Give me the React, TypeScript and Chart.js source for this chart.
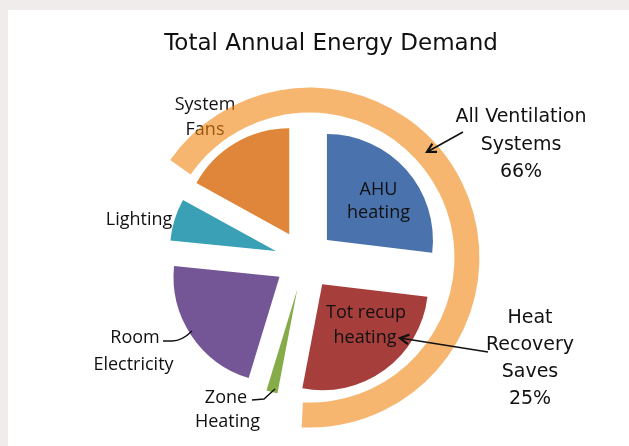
import React, { useEffect, useRef } from 'react';
import { Chart, registerables } from 'chart.js';

Chart.register(...registerables);

// ---- data ----
const sliceLabels = ['AHU heating', 'Tot recup heating', 'Zone Heating', 'Room Electricity', 'Lighting', 'System Fans'];
const sliceValues = [26.9, 26.1, 1.7, 21.9, 6.4, 17.0];
const ringLabels = ['All Ventilation Systems', 'Other'];
const ringValues = [66, 34];
const titleText = 'Total Annual Energy Demand';
const ventilationText = ['All Ventilation', 'Systems', '66%'];
const recoveryText = ['Heat', 'Recovery', 'Saves', '25%'];

// ---- style ----
const sliceColors = ['#4a72ac', '#a63e3c', '#86ac4a', '#745596', '#3aa0b6', '#e0863a'];
const ringColor = 'rgba(240,133,15,0.6)';
const SLICE_EXPLODE = 30;
const RING_EXPLODE = 5.5;
const OX = 8;
const OY = 10;
const W = 621;
const H = 436;

const explodePlugin = {
  id: 'explode',
  beforeDatasetDraw(chart: any, args: any) {
    const d = args.index === 0 ? RING_EXPLODE : SLICE_EXPLODE;
    const { left, right, top, bottom } = chart.chartArea;
    const cx = (left + right) / 2;
    const cy = (top + bottom) / 2;
    args.meta.data.forEach((el: any) => {
      const mid = (el.startAngle + el.endAngle) / 2;
      el.x = cx + Math.cos(mid) * d;
      el.y = cy + Math.sin(mid) * d;
    });
  },
};

function txt(ctx: CanvasRenderingContext2D, s: string, x: number, y: number) {
  ctx.fillText(s, x - OX, y - OY);
}

function arrow(ctx: CanvasRenderingContext2D, x1: number, y1: number, x2: number, y2: number) {
  const ax = x1 - OX, ay = y1 - OY, bx = x2 - OX, by = y2 - OY;
  ctx.save();
  ctx.strokeStyle = '#111';
  ctx.lineWidth = 1.6;
  ctx.beginPath();
  ctx.moveTo(ax, ay);
  ctx.lineTo(bx, by);
  ctx.stroke();
  const ang = Math.atan2(by - ay, bx - ax);
  const len = 10;
  ctx.lineWidth = 2.2;
  ctx.beginPath();
  ctx.moveTo(bx - len * Math.cos(ang - 0.5), by - len * Math.sin(ang - 0.5));
  ctx.lineTo(bx, by);
  ctx.lineTo(bx - len * Math.cos(ang + 0.5), by - len * Math.sin(ang + 0.5));
  ctx.stroke();
  ctx.restore();
}

const labelFont = '18px "Open Sans"';
const sideFont = '19px "DejaVu Sans"';
const titleFont = '23px "DejaVu Sans"';

const annotationPlugin = {
  id: 'annotations',
  beforeDatasetsDraw(chart: any) {
    const ctx: CanvasRenderingContext2D = chart.ctx;
    ctx.save();
    ctx.fillStyle = '#111';
    ctx.textAlign = 'center';
    ctx.textBaseline = 'alphabetic';
    ctx.font = labelFont;
    const parts = sliceLabels[5].split(' ');
    txt(ctx, parts[0], 205, 110);
    txt(ctx, parts[1], 205, 135);
    ctx.restore();
  },
  afterDatasetsDraw(chart: any) {
    const ctx: CanvasRenderingContext2D = chart.ctx;
    ctx.save();
    ctx.fillStyle = '#111';
    ctx.textAlign = 'center';
    ctx.textBaseline = 'alphabetic';

    ctx.font = titleFont;
    txt(ctx, titleText, 331, 50);

    ctx.font = labelFont;
    const ahu = sliceLabels[0].split(' ');
    txt(ctx, ahu[0], 378.5, 195);
    txt(ctx, ahu[1], 378.5, 218);
    txt(ctx, 'Tot recup', 366, 318);
    txt(ctx, 'heating', 365, 343);
    txt(ctx, sliceLabels[4], 139, 225);
    const room = sliceLabels[3].split(' ');
    txt(ctx, room[0], 135, 343);
    txt(ctx, room[1], 133.5, 370);
    const zone = sliceLabels[2].split(' ');
    txt(ctx, zone[0], 226, 403);
    txt(ctx, zone[1], 227.5, 427);

    ctx.font = sideFont;
    ventilationText.forEach((s, i) => txt(ctx, s, 521, 122 + i * 27.5));
    recoveryText.forEach((s, i) => txt(ctx, s, 530, 323 + i * 27));

    // leader lines
    ctx.strokeStyle = '#111';
    ctx.lineWidth = 1.4;
    ctx.beginPath();
    ctx.moveTo(163 - OX, 341 - OY);
    ctx.lineTo(172 - OX, 341 - OY);
    ctx.quadraticCurveTo(182 - OX, 341 - OY, 192 - OX, 331 - OY);
    ctx.stroke();
    ctx.beginPath();
    ctx.moveTo(252 - OX, 400 - OY);
    ctx.lineTo(264 - OX, 399 - OY);
    ctx.lineTo(275 - OX, 389 - OY);
    ctx.stroke();

    arrow(ctx, 463, 132, 427, 152);
    arrow(ctx, 488, 352, 400, 338);
    ctx.restore();
  },
};

export default function App() {
  const ref = useRef<HTMLCanvasElement | null>(null);
  useEffect(() => {
    document.body.style.background = '#efeceb';
    if (!ref.current) return;
    const chart = new Chart(ref.current, {
      type: 'doughnut',
      data: {
        labels: sliceLabels,
        datasets: [
          {
            label: ringLabels[0],
            data: ringValues,
            backgroundColor: [ringColor, 'rgba(0,0,0,0)'],
            borderWidth: 0,
            radius: 170,
            cutout: '70.588%',
            rotation: -55,
            weight: 1,
          } as any,
          {
            label: titleText,
            data: sliceValues,
            backgroundColor: sliceColors,
            borderWidth: 0,
            radius: 212,
            cutout: 0,
            rotation: 0,
            weight: 1,
          } as any,
        ],
      },
      options: {
        responsive: false,
        animation: false,
        layout: { padding: { left: 0, right: 28, top: 64, bottom: 0 } },
        plugins: { legend: { display: false }, tooltip: { enabled: false }, title: { display: false } },
      },
      plugins: [explodePlugin, annotationPlugin],
    });
    return () => chart.destroy();
  }, []);
  return (
    <div style={{ position: 'absolute', left: OX, top: OY, width: W, height: H, background: '#fff' }}>
      <canvas ref={ref} width={W} height={H} style={{ width: W, height: H, display: 'block' }} />
    </div>
  );
}
